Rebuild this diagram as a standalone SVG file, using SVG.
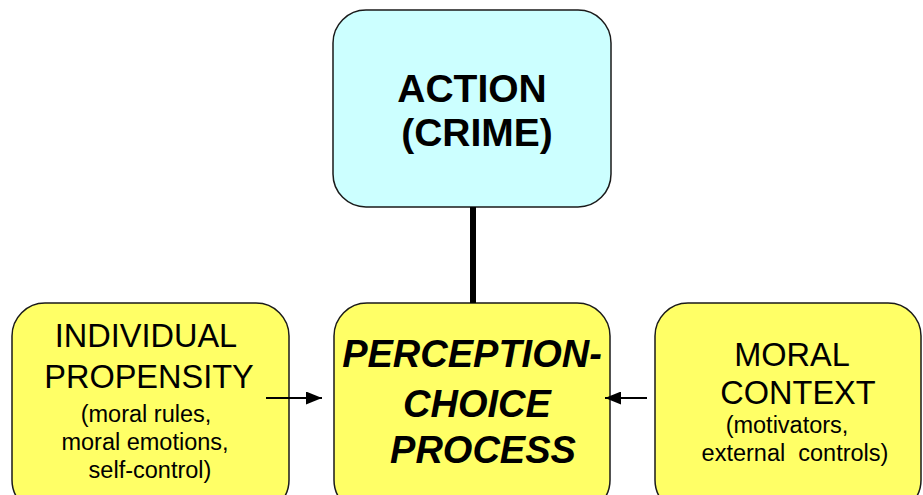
<svg xmlns="http://www.w3.org/2000/svg" width="923" height="495" viewBox="0 0 923 495">
  <defs>
    <marker id="head" viewBox="0 0 16 13" refX="16" refY="6.5" markerWidth="16" markerHeight="13" markerUnits="userSpaceOnUse" orient="auto">
      <path d="M0,0 L16,6.5 L0,13 Z" fill="#000"/>
    </marker>
  </defs>
  <style>
    .box { stroke: #1a1a1a; stroke-width: 1.5; }
    .cyan { fill: #CCFFFF; }
    .yellow { fill: #FFFF66; }
    text { font-family: "Liberation Sans", Arial, sans-serif; fill: #000; text-anchor: middle; }
    .big { font-size: 39px; font-weight: bold; }
    .bi { font-size: 38px; font-weight: bold; font-style: italic; }
    .head { font-size: 32.5px; }
    .sub { font-size: 23.5px; }
    .link { stroke: #000; fill: none; }
  </style>
  <rect width="923" height="495" fill="#fff"/>

  <g id="action">
    <rect class="box cyan" x="333" y="10" width="278" height="197" rx="33" ry="33"/>
    <text class="big" x="472" y="102">ACTION</text>
    <text class="big" x="477" y="146">(CRIME)</text>
  </g>

  <g id="perception-choice">
    <rect class="box yellow" x="334" y="303" width="276" height="210" rx="33" ry="33"/>
    <text class="bi" x="472" y="367">PERCEPTION-</text>
    <text class="bi" x="477" y="417">CHOICE</text>
    <text class="bi" x="483" y="463">PROCESS</text>
  </g>

  <g id="individual-propensity">
    <rect class="box yellow" x="12" y="303" width="277" height="210" rx="33" ry="33"/>
    <text class="head" x="146" y="347">INDIVIDUAL</text>
    <text class="head" x="149" y="388">PROPENSITY</text>
    <text class="sub" x="146" y="422">(moral rules,</text>
    <text class="sub" x="145" y="450">moral emotions,</text>
    <text class="sub" x="150" y="478">self-control)</text>
  </g>

  <g id="moral-context">
    <rect class="box yellow" x="655" y="303" width="266" height="210" rx="33" ry="33"/>
    <text class="head" x="792" y="366">MORAL</text>
    <text class="head" x="798" y="404">CONTEXT</text>
    <text class="sub" x="787" y="433">(motivators,</text>
    <text class="sub" x="795" y="461" xml:space="preserve">external  controls)</text>
  </g>

  <!-- connectors drawn last so the arrow tails show over the box fills -->
  <g id="connectors">
    <line class="link" x1="473" y1="207" x2="473" y2="303" stroke-width="6"/>
    <line class="link" x1="266" y1="398" x2="322" y2="398" stroke-width="2.2" marker-end="url(#head)"/>
    <line class="link" x1="647" y1="398" x2="605" y2="398" stroke-width="2.2" marker-end="url(#head)"/>
  </g>
</svg>
